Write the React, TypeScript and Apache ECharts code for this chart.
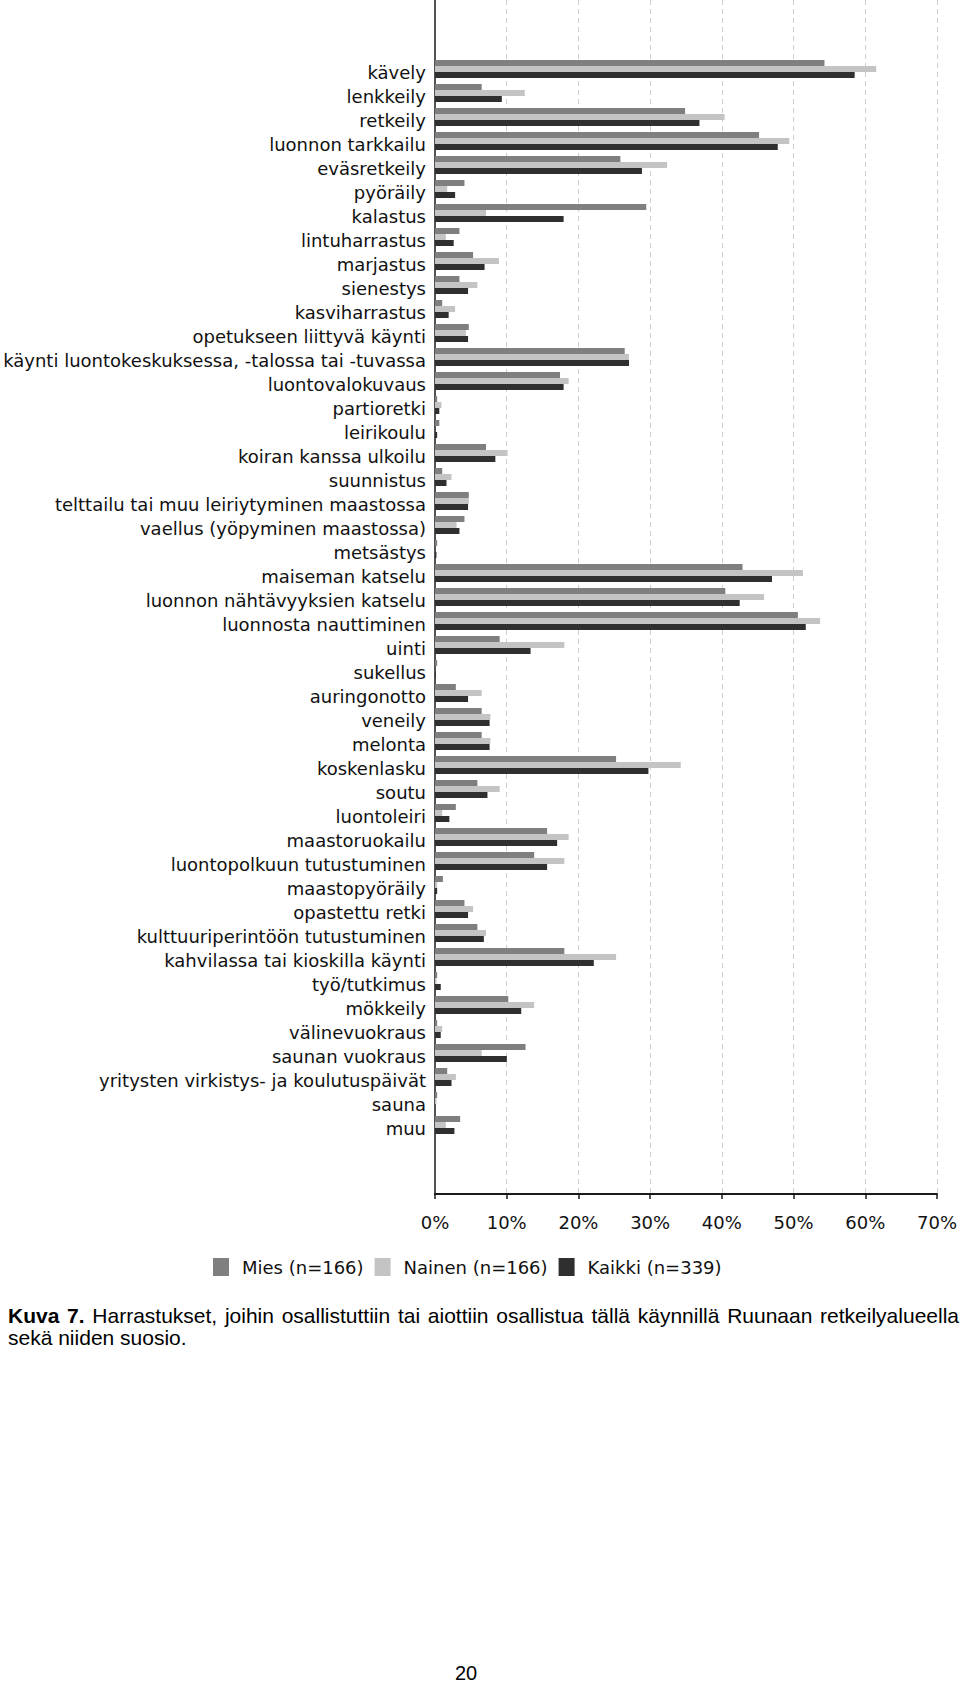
import React, { useEffect, useRef } from "react";
import * as echarts from "echarts";

const categories = [
  "kävely",
  "lenkkeily",
  "retkeily",
  "luonnon tarkkailu",
  "eväsretkeily",
  "pyöräily",
  "kalastus",
  "lintuharrastus",
  "marjastus",
  "sienestys",
  "kasviharrastus",
  "opetukseen liittyvä käynti",
  "käynti luontokeskuksessa, -talossa tai -tuvassa",
  "luontovalokuvaus",
  "partioretki",
  "leirikoulu",
  "koiran kanssa ulkoilu",
  "suunnistus",
  "telttailu tai muu leiriytyminen maastossa",
  "vaellus (yöpyminen maastossa)",
  "metsästys",
  "maiseman katselu",
  "luonnon nähtävyyksien katselu",
  "luonnosta nauttiminen",
  "uinti",
  "sukellus",
  "auringonotto",
  "veneily",
  "melonta",
  "koskenlasku",
  "soutu",
  "luontoleiri",
  "maastoruokailu",
  "luontopolkuun tutustuminen",
  "maastopyöräily",
  "opastettu retki",
  "kulttuuriperintöön tutustuminen",
  "kahvilassa tai kioskilla käynti",
  "työ/tutkimus",
  "mökkeily",
  "välinevuokraus",
  "saunan vuokraus",
  "yritysten virkistys- ja koulutuspäivät",
  "sauna",
  "muu",
];

const mies = [
  54.2, 6.5, 34.8, 45.1, 25.8, 4.1, 29.4, 3.4, 5.3, 3.4, 1.0, 4.7, 26.4, 17.4,
  0.3, 0.6, 7.1, 1.0, 4.7, 4.1, 0.3, 42.8, 40.4, 50.5, 9.0, 0.3, 2.9, 6.5, 6.5,
  25.2, 5.9, 2.9, 15.6, 13.8, 1.1, 4.1, 5.9, 18.0, 0.3, 10.2, 0.3, 12.6, 1.7,
  0.3, 3.5,
];

const nainen = [
  61.4, 12.5, 40.3, 49.3, 32.3, 1.7, 7.1, 1.5, 8.9, 5.9, 2.8, 4.3, 27.0, 18.6,
  0.9, 0, 10.1, 2.3, 4.7, 3.0, 0, 51.2, 45.8, 53.6, 18.0, 0, 6.5, 7.7, 7.7,
  34.2, 9.0, 1.0, 18.6, 18.0, 0.3, 5.3, 7.1, 25.2, 0.2, 13.8, 1.0, 6.5, 2.9,
  0.2, 1.5,
];

const kaikki = [
  58.4, 9.3, 36.8, 47.7, 28.8, 2.8, 17.9, 2.6, 6.9, 4.6, 1.9, 4.6, 27.0, 17.9,
  0.6, 0.3, 8.4, 1.6, 4.6, 3.4, 0.2, 46.9, 42.4, 51.6, 13.3, 0.1, 4.6, 7.6, 7.6,
  29.7, 7.3, 2.0, 17.0, 15.6, 0.3, 4.6, 6.8, 22.1, 0.8, 12.0, 0.8, 10.0, 2.3,
  0, 2.7,
];

const seriesNames = ["Mies (n=166)", "Nainen (n=166)", "Kaikki (n=339)"];
const seriesColors = ["#7f7f7f", "#c4c4c4", "#2f2f2f"];

const captionBold = "Kuva 7.";
const captionLine1 =
  "Harrastukset, joihin osallistuttiin tai aiottiin osallistua tällä käynnillä Ruunaan retkeilyalueella";
const captionLine2 = "sekä niiden suosio.";
const pageNumber = "20";

const xMin = 0;
const xMax = 70;
const xInterval = 10;

const chartFont = "'DejaVu Sans', Verdana, sans-serif";
const captionFont = "'Liberation Sans', Arial, sans-serif";

function measure(text: string, bold: boolean, size: number): number {
  const c = document.createElement("canvas").getContext("2d");
  if (!c) return text.length * size * 0.5;
  c.font = `${bold ? "bold " : ""}${size}px 'Liberation Sans', Arial, sans-serif`;
  return c.measureText(text).width;
}

function justifiedLine(
  words: { t: string; b: boolean }[],
  x0: number,
  x1: number,
  y: number,
  size: number
): any[] {
  const widths = words.map((w) => measure(w.t, w.b, size));
  const total = widths.reduce((a, b) => a + b, 0);
  const gap = (x1 - x0 - total) / (words.length - 1);
  const out: any[] = [];
  let x = x0;
  words.forEach((w, i) => {
    out.push({
      type: "text",
      x,
      y,
      style: {
        text: w.t,
        fontFamily: captionFont,
        fontWeight: w.b ? "bold" : "normal",
        fontSize: size,
        fill: "#000000",
        verticalAlign: "middle",
        align: "left",
      },
    });
    x += widths[i] + gap;
  });
  return out;
}

export default function App() {
  const ref = useRef<HTMLDivElement>(null);

  useEffect(() => {
    if (!ref.current) return;
    const chart = echarts.init(ref.current, undefined, { renderer: "svg" });

    const plotLeft = 435;
    const plotRight = 22;
    const capSize = 21;

    const line1Words = [
      ...captionBold.split(" ").map((t) => ({ t, b: true })),
      ...captionLine1.split(" ").map((t) => ({ t, b: false })),
    ];

    const option: any = {
      animation: false,
      backgroundColor: "#ffffff",
      grid: [
        { left: plotLeft, right: plotRight, top: 57, height: 1080 },
        { left: plotLeft, right: plotRight, top: 0, height: 1194 },
      ],
      xAxis: [
        {
          gridIndex: 0,
          type: "value",
          min: xMin,
          max: xMax,
          interval: xInterval,
          show: false,
        },
        {
          gridIndex: 1,
          type: "value",
          min: xMin,
          max: xMax,
          interval: xInterval,
          axisLine: { show: true, lineStyle: { color: "#1a1a1a", width: 2 } },
          axisTick: {
            show: true,
            length: 5,
            lineStyle: { color: "#1a1a1a", width: 1.5 },
          },
          axisLabel: {
            formatter: "{value}%",
            fontFamily: chartFont,
            fontSize: 18,
            color: "#111111",
            margin: 19,
          },
          splitLine: {
            show: true,
            showMinLine: false,
            lineStyle: { color: "#cfcfcf", type: [5, 4], width: 1 },
          },
        },
      ],
      yAxis: [
        {
          gridIndex: 0,
          type: "category",
          inverse: true,
          data: categories,
          axisLine: { show: false },
          axisTick: { show: false },
          axisLabel: {
            fontFamily: chartFont,
            fontSize: 18,
            color: "#111111",
            margin: 9,
            verticalAlign: "top",
            lineHeight: 6,
          },
        },
        {
          gridIndex: 1,
          type: "value",
          min: 0,
          max: 1,
          axisLine: { show: true, lineStyle: { color: "#1a1a1a", width: 1.5 } },
          axisTick: { show: false },
          axisLabel: { show: false },
          splitLine: { show: false },
        },
      ],
      legend: {
        data: seriesNames,
        left: 213,
        top: 1258,
        padding: 0,
        icon: "rect",
        itemWidth: 16,
        itemHeight: 18,
        itemGap: 11,
        textStyle: {
          fontFamily: chartFont,
          fontSize: 18,
          color: "#111111",
          padding: [0, 0, 0, 8],
        },
      },
      series: [mies, nainen, kaikki].map((vals, i) => ({
        name: seriesNames[i],
        type: "bar",
        xAxisIndex: 0,
        yAxisIndex: 0,
        data: vals,
        barGap: "0%",
        barCategoryGap: "25%",
        itemStyle: { color: seriesColors[i] },
      })),
      graphic: [
        ...justifiedLine(line1Words, 8, 959, 1315, capSize),
        {
          type: "text",
          x: 8,
          y: 1337,
          style: {
            text: captionLine2,
            fontFamily: captionFont,
            fontSize: capSize,
            fill: "#000000",
            verticalAlign: "middle",
            align: "left",
          },
        },
        {
          type: "text",
          left: 455,
          top: 1663,
          style: {
            text: pageNumber,
            fontFamily: captionFont,
            fontSize: 20,
            fill: "#000000",
          },
        },
      ],
    };

    chart.setOption(option);
    return () => chart.dispose();
  }, []);

  return (
    <div
      ref={ref}
      style={{
        position: "absolute",
        left: 0,
        top: 0,
        width: 960,
        height: 1684,
        background: "#ffffff",
      }}
    />
  );
}
